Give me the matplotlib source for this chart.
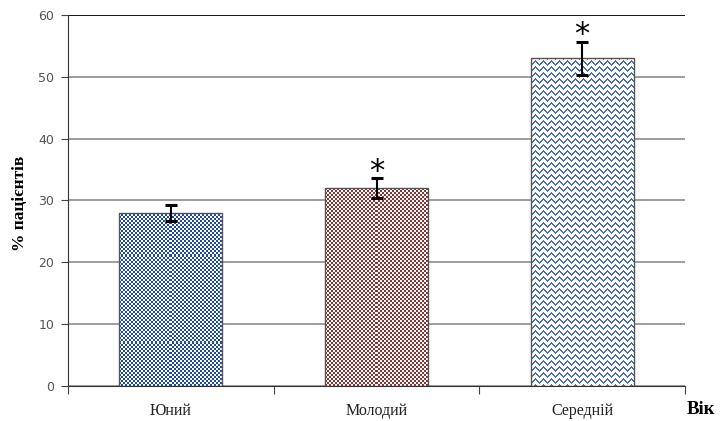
import numpy as np
import matplotlib
matplotlib.use("Agg")
import matplotlib.pyplot as plt

categories = ["Юний", "Молодий", "Середній"]
values = [28.0, 32.0, 53.0]
errors = [1.3, 1.6, 2.7]
significant = [False, True, True]
yticks = [0, 10, 20, 30, 40, 50, 60]

fig = plt.figure(figsize=(7.24, 4.21), dpi=100)
ax = fig.add_axes([68/724, 1-386/421, (685-68)/724, (386-15)/421])
x = np.arange(len(categories))
bars = ax.bar(x, values, width=0.5, facecolor="none", edgecolor="#555555", linewidth=1.0, zorder=3)
ax.set_xlim(-0.5, len(categories) - 0.5)
ax.set_ylim(0, 60)

fig.canvas.draw()

def checker(nx, ny, color):
    c = np.array(matplotlib.colors.to_rgb(color))
    img = np.ones((ny, nx, 3))
    mask = (np.add.outer(np.arange(ny), np.arange(nx)) % 2) == 0
    img[mask] = c
    return img

def zigzag(nx, ny, color):
    c = np.array(matplotlib.colors.to_rgb(color))
    img = np.ones((ny, nx, 3))
    period = 8
    spacing = 6
    for j in range(nx):
        ph = j % period
        off = ph if ph <= period // 2 else period - ph
        for i in range(ny):
            r = (i + off) % spacing
            if r in (0, 1):
                img[i, j] = c
    return img

colors_tex = ["#1d4a9e", "#8c3434", "#4a70bd"]
for k, b in enumerate(bars):
    bb = b.get_window_extent()
    wpx = int(round(bb.width))
    hpx = int(round(bb.height))
    if k < 2:
        tex = checker(max(wpx // 2, 1), max(hpx // 2, 1), colors_tex[k])
    else:
        tex = zigzag(max(wpx, 1), max(hpx, 1), colors_tex[k])
    im = ax.imshow(tex, extent=[b.get_x(), b.get_x() + b.get_width(), 0, b.get_height()],
                   interpolation="nearest", aspect="auto", zorder=2, origin="upper")
    im.set_clip_path(b)

ax.set_aspect("auto")
ax.set_xlim(-0.5, len(categories) - 0.5)
ax.set_ylim(0, 60)

ax.errorbar(x, values, yerr=errors, fmt="none", ecolor="black", elinewidth=1.5,
            capsize=4.5, capthick=2.2, zorder=4)
for xi, v, e, s in zip(x, values, errors, significant):
    if s:
        ax.annotate("*", (xi, v + e), xytext=(0, -1), textcoords="offset points",
                    ha="center", va="baseline", fontsize=22,
                    family="DejaVu Sans", zorder=5)

ax.set_yticks(yticks)
ax.set_yticklabels([str(t) for t in yticks], fontsize=9, color="#555555", family="DejaVu Sans")
ax.yaxis.grid(True, color="#8c8c8c", linewidth=1.2, zorder=0)
ax.set_axisbelow(True)
ax.axhline(60, color="black", linewidth=1.2, zorder=1)

ax.set_xticks(np.arange(len(categories) + 1) - 0.5)
ax.set_xticklabels([])
ax.set_xticks(x, minor=True)
ax.set_xticklabels(categories, minor=True, fontsize=11.5, family="Liberation Serif", color="#222222")
ax.tick_params(axis="x", which="minor", length=0, pad=12)
ax.tick_params(axis="x", which="major", length=6, direction="out", color="#444444")
ax.tick_params(axis="y", length=5, direction="out", color="#444444", pad=5)

for s in ["top", "right"]:
    ax.spines[s].set_visible(False)
ax.spines["left"].set_color("#333333")
ax.spines["bottom"].set_color("#333333")

fig.text(20/724, 1-203/421, "% пацієнтів", rotation=90, ha="center", va="center",
         fontsize=12.5, fontweight="bold", family="Liberation Serif")
fig.text(687/724, 1-409/421, "Вік", ha="left", va="center",
         fontsize=13.5, fontweight="bold", family="Liberation Serif")

fig.savefig("out.png", dpi=100)
